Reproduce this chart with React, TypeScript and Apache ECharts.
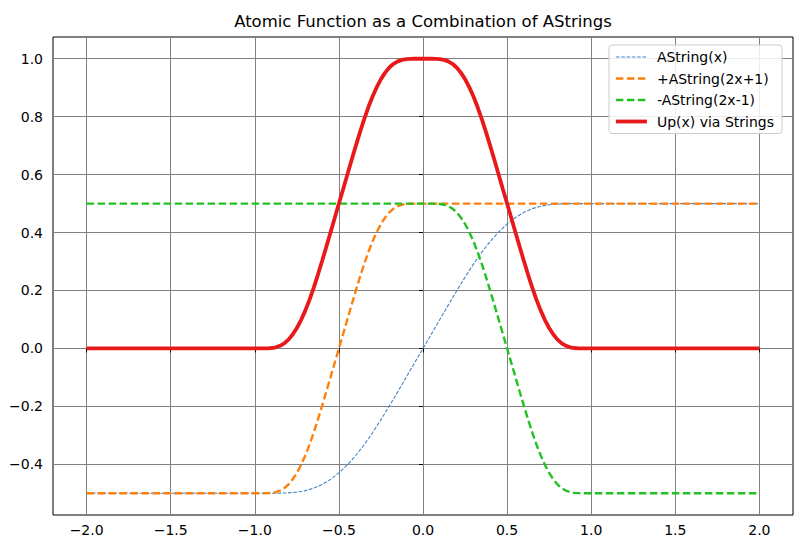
import React, { useEffect, useRef } from 'react';
import * as echarts from 'echarts';

const chartTitle = 'Atomic Function as a Combination of AStrings';
const seriesNames = ['AString(x)', '+AString(2x+1)', '-AString(2x-1)', 'Up(x) via Strings'];
const xTicks = [-2.0, -1.5, -1.0, -0.5, 0.0, 0.5, 1.0, 1.5, 2.0];
const yTicks = [-0.4, -0.2, 0.0, 0.2, 0.4, 0.6, 0.8, 1.0];

// AString(x), x = -2, then -1 .. 1 step 0.05, then 2
const aStringX = [-2, -1, -0.95, -0.9, -0.85, -0.8, -0.75, -0.7, -0.65, -0.6, -0.55, -0.5, -0.45, -0.4, -0.35, -0.3, -0.25, -0.2, -0.15, -0.1, -0.05, 0,
  0.05, 0.1, 0.15, 0.2, 0.25, 0.3, 0.35, 0.4, 0.45, 0.5, 0.55, 0.6, 0.65, 0.7, 0.75, 0.8, 0.85, 0.9, 0.95, 1, 2];
const aStringY = [-0.5, -0.5, -0.5, -0.4999, -0.4996, -0.4986, -0.496, -0.491, -0.4825, -0.4697, -0.452, -0.4295, -0.402, -0.3696, -0.3324, -0.2909, -0.2459, -0.1984, -0.1494, -0.0997, -0.0497, 0,
  0.0497, 0.0997, 0.1494, 0.1984, 0.2459, 0.2909, 0.3324, 0.3696, 0.402, 0.4295, 0.452, 0.4697, 0.4825, 0.491, 0.496, 0.4986, 0.4996, 0.4999, 0.5, 0.5, 0.5];

// +AString(2x+1), x = -2, then -1 .. 0 step 0.025, then 2
const plusX = [-2, -1, -0.975, -0.95, -0.925, -0.9, -0.875, -0.85, -0.825, -0.8, -0.775, -0.75, -0.725, -0.7, -0.675, -0.65, -0.625, -0.6, -0.575, -0.55, -0.525, -0.5,
  -0.475, -0.45, -0.425, -0.4, -0.375, -0.35, -0.325, -0.3, -0.275, -0.25, -0.225, -0.2, -0.175, -0.15, -0.125, -0.1, -0.075, -0.05, -0.025, 0, 2];
const plusY = [-0.5, -0.5, -0.5, -0.4999, -0.4996, -0.4986, -0.496, -0.491, -0.4825, -0.4697, -0.452, -0.4295, -0.402, -0.3696, -0.3324, -0.2909, -0.2459, -0.1984, -0.1494, -0.0997, -0.0497, 0,
  0.0497, 0.0997, 0.1494, 0.1984, 0.2459, 0.2909, 0.3324, 0.3696, 0.402, 0.4295, 0.452, 0.4697, 0.4825, 0.491, 0.496, 0.4986, 0.4996, 0.4999, 0.5, 0.5, 0.5];

// -AString(2x-1), x = -2, then 0 .. 1 step 0.025, then 2
const minusX = [-2, 0, 0.025, 0.05, 0.075, 0.1, 0.125, 0.15, 0.175, 0.2, 0.225, 0.25, 0.275, 0.3, 0.325, 0.35, 0.375, 0.4, 0.425, 0.45, 0.475, 0.5,
  0.525, 0.55, 0.575, 0.6, 0.625, 0.65, 0.675, 0.7, 0.725, 0.75, 0.775, 0.8, 0.825, 0.85, 0.875, 0.9, 0.925, 0.95, 0.975, 1, 2];
const minusY = [0.5, 0.5, 0.5, 0.4999, 0.4996, 0.4986, 0.496, 0.491, 0.4825, 0.4697, 0.452, 0.4295, 0.402, 0.3696, 0.3324, 0.2909, 0.2459, 0.1984, 0.1494, 0.0997, 0.0497, 0,
  -0.0497, -0.0997, -0.1494, -0.1984, -0.2459, -0.2909, -0.3324, -0.3696, -0.402, -0.4295, -0.452, -0.4697, -0.4825, -0.491, -0.496, -0.4986, -0.4996, -0.4999, -0.5, -0.5, -0.5];

// Up(x), x = -2, then -1 .. 1 step 0.025, then 2
const upX = [-2, -1, -0.975, -0.95, -0.925, -0.9, -0.875, -0.85, -0.825, -0.8, -0.775, -0.75, -0.725, -0.7, -0.675, -0.65, -0.625, -0.6, -0.575, -0.55, -0.525, -0.5,
  -0.475, -0.45, -0.425, -0.4, -0.375, -0.35, -0.325, -0.3, -0.275, -0.25, -0.225, -0.2, -0.175, -0.15, -0.125, -0.1, -0.075, -0.05, -0.025, 0,
  0.025, 0.05, 0.075, 0.1, 0.125, 0.15, 0.175, 0.2, 0.225, 0.25, 0.275, 0.3, 0.325, 0.35, 0.375, 0.4, 0.425, 0.45, 0.475, 0.5,
  0.525, 0.55, 0.575, 0.6, 0.625, 0.65, 0.675, 0.7, 0.725, 0.75, 0.775, 0.8, 0.825, 0.85, 0.875, 0.9, 0.925, 0.95, 0.975, 1, 2];
const upY = [0, 0, 0, 0.0001, 0.0004, 0.0014, 0.004, 0.009, 0.0175, 0.0303, 0.048, 0.0705, 0.098, 0.1304, 0.1676, 0.2091, 0.2541, 0.3016, 0.3506, 0.4003, 0.4503, 0.5,
  0.5497, 0.5997, 0.6494, 0.6984, 0.7459, 0.7909, 0.8324, 0.8696, 0.902, 0.9295, 0.952, 0.9697, 0.9825, 0.991, 0.996, 0.9986, 0.9996, 0.9999, 1, 1,
  1, 0.9999, 0.9996, 0.9986, 0.996, 0.991, 0.9825, 0.9697, 0.952, 0.9295, 0.902, 0.8696, 0.8324, 0.7909, 0.7459, 0.6984, 0.6494, 0.5997, 0.5497, 0.5,
  0.4503, 0.4003, 0.3506, 0.3016, 0.2541, 0.2091, 0.1676, 0.1304, 0.098, 0.0705, 0.048, 0.0303, 0.0175, 0.009, 0.004, 0.0014, 0.0004, 0.0001, 0, 0, 0];

const pairs = (xs: number[], ys: number[]) => xs.map((x, i) => [x, ys[i]]);
const fmt = (v: number) => (v < -1e-9 ? '\u2212' : '') + Math.abs(v).toFixed(1);
const FONT = 'DejaVu Sans';

export default function App() {
  const ref = useRef<HTMLDivElement>(null);
  useEffect(() => {
    if (!ref.current) return;
    const chart = echarts.init(ref.current, null, { renderer: 'svg' });
    const axisCommon = {
      type: 'value' as const,
      axisLine: { show: false },
      axisTick: { show: true, length: 4, lineStyle: { color: '#000', width: 1 } },
      splitLine: { show: true, lineStyle: { color: '#808080', width: 1 } },
    };
    chart.setOption({
      animation: false,
      backgroundColor: '#ffffff',
      graphic: [
        {
          type: 'text', x: 423, y: 21,
          style: { text: chartTitle, fill: '#000', font: `16.5px "${FONT}"`, textAlign: 'center', textVerticalAlign: 'middle' },
        },
      ],
      grid: { left: 53, right: 2, top: 37, bottom: 27, show: true, borderColor: '#000', borderWidth: 1, backgroundColor: 'transparent' },
      xAxis: {
        ...axisCommon,
        min: -2.2, max: 2.2,
        axisTick: { ...axisCommon.axisTick, customValues: xTicks },
        axisLabel: { customValues: xTicks, formatter: fmt, margin: 8, color: '#000', fontFamily: FONT, fontSize: 14 },
      },
      yAxis: {
        ...axisCommon,
        min: -0.575, max: 1.075,
        axisTick: { ...axisCommon.axisTick, customValues: yTicks },
        axisLabel: { customValues: yTicks, formatter: fmt, margin: 10, color: '#000', fontFamily: FONT, fontSize: 14 },
      },
      legend: {
        data: seriesNames,
        orient: 'vertical',
        left: 609, top: 45,
        itemWidth: 31, itemHeight: 14, itemGap: 7.5,
        padding: [5, 8, 5, 5],
        borderColor: '#cccccc', borderWidth: 1, borderRadius: 3,
        backgroundColor: 'rgba(255,255,255,0.85)',
        itemStyle: { opacity: 0 },
        lineStyle: { width: 'inherit', type: 'inherit' },
        textStyle: { fontFamily: FONT, fontSize: 14, color: '#000', padding: [0, 0, 0, 5] },
      },
      series: [
        {
          name: seriesNames[0], type: 'line', data: pairs(aStringX, aStringY), symbol: 'none',
          lineStyle: { color: '#3d86cc', width: 1.1, type: [3.7, 1.6] }, itemStyle: { color: '#3d86cc' },
        },
        {
          name: seriesNames[1], type: 'line', data: pairs(plusX, plusY), symbol: 'none',
          lineStyle: { color: '#ff7f0e', width: 2.4, type: [7.5, 3.5] }, itemStyle: { color: '#ff7f0e' },
        },
        {
          name: seriesNames[2], type: 'line', data: pairs(minusX, minusY), symbol: 'none',
          lineStyle: { color: '#22c022', width: 2.4, type: [7.5, 3.5] }, itemStyle: { color: '#22c022' },
        },
        {
          name: seriesNames[3], type: 'line', data: pairs(upX, upY), symbol: 'none',
          lineStyle: { color: '#e8191b', width: 3.8 }, itemStyle: { color: '#e8191b' },
        },
      ],
    });
    return () => chart.dispose();
  }, []);
  return <div ref={ref} style={{ position: 'fixed', left: 0, top: 0, width: 795, height: 542 }} />;
}
